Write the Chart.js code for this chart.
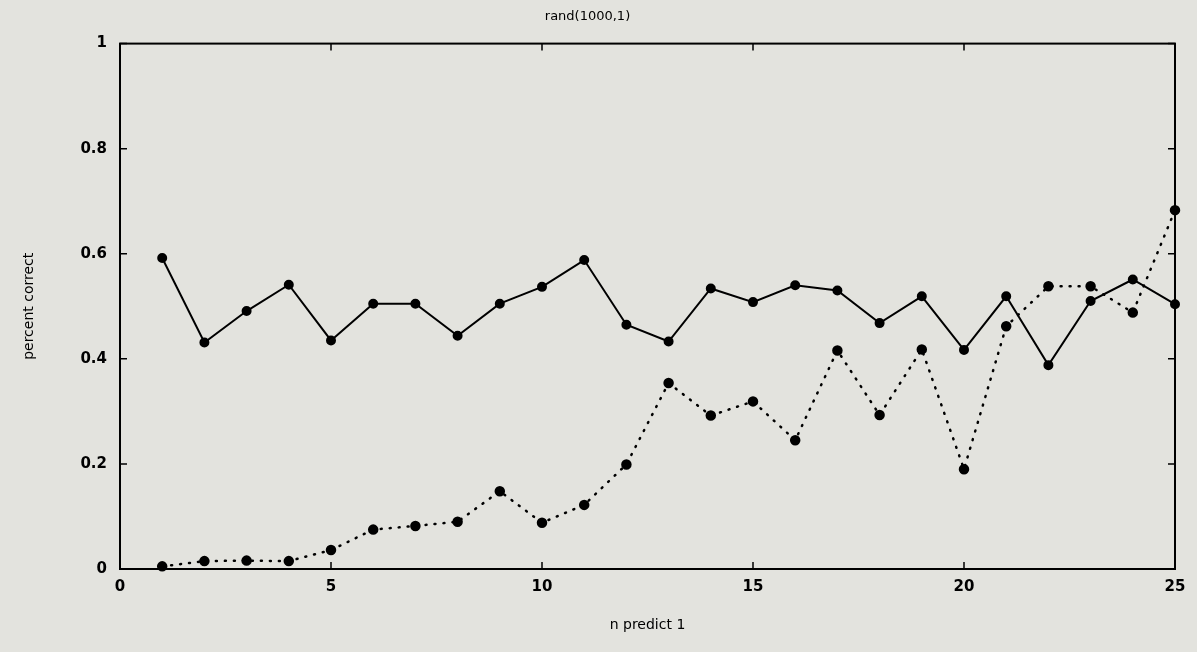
<!DOCTYPE html>
<html>
<head>
<meta charset="utf-8">
<script src="https://cdn.jsdelivr.net/npm/chart.js@4.4.1/dist/chart.umd.min.js"></script>
<style>
  html, body { margin: 0; padding: 0; background: #e3e3de; }
  #wrap { width: 1197px; height: 652px; }
</style>
</head>
<body>
<div id="wrap"><canvas id="grafico"></canvas></div>
<script>
// Datos
const nPredict = [1, 2, 3, 4, 5, 6, 7, 8, 9, 10, 11, 12, 13, 14, 15, 16, 17, 18, 19, 20, 21, 22, 23, 24, 25];
const serieSolida = [0.592, 0.431, 0.491, 0.541, 0.435, 0.505, 0.505, 0.444, 0.505, 0.537, 0.588, 0.465, 0.433,
    0.534, 0.508, 0.540, 0.530, 0.468, 0.519, 0.417, 0.519, 0.388, 0.510, 0.551, 0.504];
const seriePunteada = [0.005, 0.015, 0.016, 0.015, 0.036, 0.075, 0.082, 0.090, 0.148, 0.088, 0.122, 0.199, 0.354,
    0.292, 0.319, 0.245, 0.416, 0.293, 0.418, 0.190, 0.462, 0.538, 0.538, 0.488, 0.683];
const ticksX = [0, 5, 10, 15, 20, 25];
const ticksY = [0, 0.2, 0.4, 0.6, 0.8, 1];

const fuente = "'DejaVu Sans', sans-serif";

// Caja del grafico con marcas hacia adentro
const cajaPlugin = {
    id: 'caja',
    beforeDraw(chart) {
        const ctx = chart.ctx;
        ctx.save();
        ctx.fillStyle = '#e3e3de';
        ctx.fillRect(0, 0, chart.width, chart.height);
        ctx.restore();
    },
    afterDraw(chart) {
        const ctx = chart.ctx;
        const a = chart.chartArea;
        const sx = chart.scales.x;
        const sy = chart.scales.y;
        const largo = 7;
        ctx.save();
        ctx.strokeStyle = '#000';
        ctx.lineWidth = 2;
        ctx.strokeRect(a.left, a.top, a.right - a.left, a.bottom - a.top);
        ctx.lineWidth = 1.5;
        ctx.beginPath();
        ticksX.forEach((v) => {
            const px = sx.getPixelForValue(v);
            ctx.moveTo(px, a.bottom); ctx.lineTo(px, a.bottom - largo);
            ctx.moveTo(px, a.top); ctx.lineTo(px, a.top + largo);
        });
        ticksY.forEach((v) => {
            const py = sy.getPixelForValue(v);
            ctx.moveTo(a.left, py); ctx.lineTo(a.left + largo, py);
            ctx.moveTo(a.right, py); ctx.lineTo(a.right - largo, py);
        });
        ctx.stroke();
        ctx.restore();
    }
};

const ctx = document.getElementById('grafico').getContext('2d');
new Chart(ctx, {
    type: 'line',
    data: {
        labels: nPredict,
        datasets: [
            {
                label: 'solida',
                data: nPredict.map((x, i) => ({ x: x, y: serieSolida[i] })),
                borderColor: '#000',
                backgroundColor: '#000',
                borderWidth: 2,
                pointRadius: 4,
                pointHoverRadius: 4,
                tension: 0,
                clip: false
            },
            {
                label: 'punteada',
                data: nPredict.map((x, i) => ({ x: x, y: seriePunteada[i] })),
                borderColor: '#000',
                backgroundColor: '#000',
                borderWidth: 2.5,
                borderDash: [1, 8],
                borderCapStyle: 'round',
                pointRadius: 4,
                pointHoverRadius: 4,
                tension: 0,
                clip: false
            }
        ]
    },
    options: {
        responsive: true,
        maintainAspectRatio: false,
        animation: false,
        layout: { padding: { right: 22, top: 0 } },
        scales: {
            x: {
                type: 'linear',
                min: 0,
                max: 25,
                afterFit: (s) => { s.height = 83; },
                afterBuildTicks: (s) => { s.ticks = ticksX.map(v => ({ value: v })); },
                grid: { display: false, drawTicks: false },
                border: { display: false },
                ticks: { color: '#000', padding: 9, maxRotation: 0, font: { family: fuente, size: 15, weight: 'bold' } },
                title: { display: true, text: 'n predict 1', color: '#000', padding: { top: 0, bottom: 18 }, font: { family: fuente, size: 14 } }
            },
            y: {
                min: 0,
                max: 1,
                afterFit: (s) => { s.width = 120; },
                afterBuildTicks: (s) => { s.ticks = ticksY.map(v => ({ value: v })); },
                grid: { display: false, drawTicks: false },
                border: { display: false },
                ticks: {
                    color: '#000',
                    padding: 13,
                    font: { family: fuente, size: 15, weight: 'bold' },
                    callback: (v) => String(Math.round(v * 10) / 10)
                },
                title: { display: true, text: 'percent correct', color: '#000', padding: { top: 21, bottom: 0 }, font: { family: fuente, size: 14 } }
            }
        },
        plugins: {
            legend: { display: false },
            tooltip: { enabled: false },
            title: {
                display: true,
                text: 'rand(1000,1)',
                color: '#000',
                font: { family: fuente, size: 13, weight: 'normal' },
                padding: { top: 9, bottom: 19 }
            }
        }
    },
    plugins: [cajaPlugin]
});
</script>
</body>
</html>
